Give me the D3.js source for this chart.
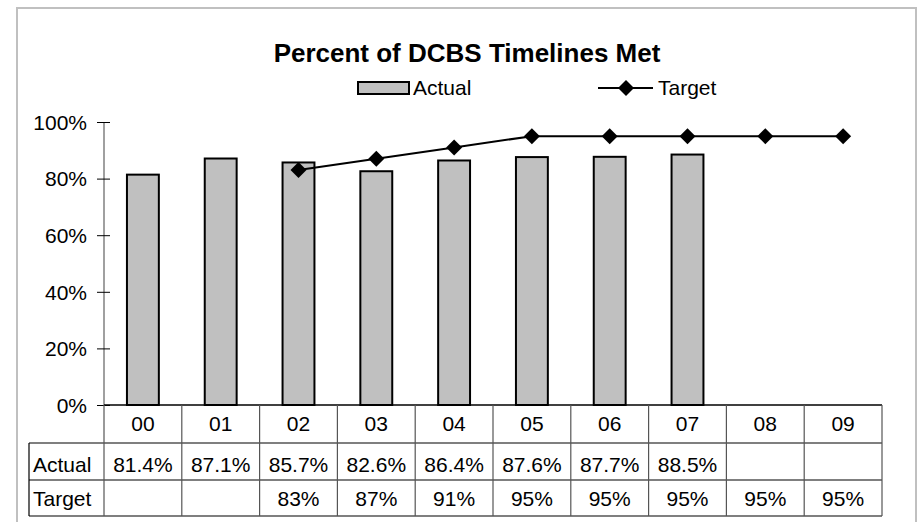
<!DOCTYPE html>
<html>
<head>
<meta charset="utf-8">
<script src="https://cdn.jsdelivr.net/npm/d3@7"></script>
<style>
  html, body { margin: 0; padding: 0; background: #fff; }
  svg { display: block; font-family: "Liberation Sans", Arial, sans-serif; }
</style>
</head>
<body>
<svg id="chart" width="920" height="522"></svg>
<script>
const categories = ["00", "01", "02", "03", "04", "05", "06", "07", "08", "09"];
const actual = [81.4, 87.1, 85.7, 82.6, 86.4, 87.6, 87.7, 88.5, null, null];
const target = [null, null, 83, 87, 91, 95, 95, 95, 95, 95];
const actualLabels = ["81.4%", "87.1%", "85.7%", "82.6%", "86.4%", "87.6%", "87.7%", "88.5%", "", ""];
const targetLabels = ["", "", "83%", "87%", "91%", "95%", "95%", "95%", "95%", "95%"];
const yTicks = [0, 20, 40, 60, 80, 100];
const seriesNames = ["Actual", "Target"];
const title = "Percent of DCBS Timelines Met";

(function () {
const svg = d3.select("#chart");
const FS = 21;

// outer frame
svg.append("rect").attr("x", 17).attr("y", 8).attr("width", 899).attr("height", 530)
  .attr("fill", "#fff").attr("stroke", "#c0c0c0").attr("stroke-width", 2);

const pLeft = 104, pRight = 882, pTop = 122, pBottom = 405;
const x = d3.scaleBand().domain(categories).range([pLeft, pRight]).paddingInner(0).paddingOuter(0);
const y = d3.scaleLinear().domain([0, 100]).range([pBottom, pTop]);

// title
svg.append("text").attr("x", 467).attr("y", 62).attr("text-anchor", "middle")
  .attr("font-size", 26).attr("font-weight", "bold").attr("fill", "#000").text(title);

// legend
const lg = svg.append("g");
lg.append("rect").attr("x", 358).attr("y", 82).attr("width", 51).attr("height", 12)
  .attr("fill", "#c0c0c0").attr("stroke", "#000").attr("stroke-width", 2);
lg.append("text").attr("x", 413).attr("y", 95).attr("font-size", FS).text(seriesNames[0]);
lg.append("line").attr("x1", 598).attr("x2", 653).attr("y1", 88).attr("y2", 88)
  .attr("stroke", "#000").attr("stroke-width", 2);
lg.append("path").attr("d", d3.symbol().type(d3.symbolSquare).size(128)())
  .attr("transform", "translate(626,88) rotate(45)").attr("fill", "#000");
lg.append("text").attr("x", 658).attr("y", 95).attr("font-size", FS).text(seriesNames[1]);

// y axis
const yAxis = d3.axisLeft(y).tickValues(yTicks).tickFormat(d => d + "%").tickSize(7).tickPadding(10);
const ya = svg.append("g").attr("transform", `translate(${pLeft},0)`).call(yAxis);
ya.select(".domain").attr("stroke", "#808080").attr("stroke-width", 1.5).attr("d", `M0,${pTop}V${pBottom}`);
ya.selectAll(".tick line").attr("stroke", "#000").attr("x1", 6).attr("x2", -7);
ya.selectAll(".tick text").attr("font-size", FS).attr("fill", "#000")
  .attr("font-family", "Liberation Sans, Arial, sans-serif").attr("x", -17).attr("dy", "0.35em");

// bars
const bw = x.bandwidth() * 0.41;
svg.append("g").selectAll("rect").data(categories.map((c, i) => ({c, v: actual[i]})).filter(d => d.v != null))
  .join("rect")
  .attr("x", d => x(d.c) + x.bandwidth() / 2 - bw / 2)
  .attr("y", d => y(d.v))
  .attr("width", bw)
  .attr("height", d => y(0) - y(d.v))
  .attr("fill", "#c0c0c0").attr("stroke", "#000").attr("stroke-width", 2);

// target line
const tData = categories.map((c, i) => ({c, v: target[i]})).filter(d => d.v != null);
const line = d3.line().x(d => x(d.c) + x.bandwidth() / 2).y(d => y(d.v));
svg.append("path").datum(tData).attr("d", line).attr("fill", "none")
  .attr("stroke", "#000").attr("stroke-width", 2);
svg.append("g").selectAll("path").data(tData).join("path")
  .attr("d", d3.symbol().type(d3.symbolSquare).size(128)())
  .attr("transform", d => `translate(${x(d.c) + x.bandwidth() / 2},${y(d.v)}) rotate(45)`)
  .attr("fill", "#000");

// data table
const tbl = svg.append("g");
const labelLeft = 29;
tbl.append("line").attr("x1", pLeft).attr("x2", pRight).attr("y1", pBottom).attr("y2", pBottom)
  .attr("stroke", "#000").attr("stroke-width", 1.5);
[443, 480, 516].forEach(yy => tbl.append("line").attr("x1", labelLeft).attr("x2", pRight)
  .attr("y1", yy).attr("y2", yy).attr("stroke", "#000").attr("stroke-width", 1.2));
tbl.append("line").attr("x1", labelLeft).attr("x2", labelLeft).attr("y1", 443).attr("y2", 516)
  .attr("stroke", "#000").attr("stroke-width", 1.2);
const bounds = categories.map(c => x(c)).concat([pRight]);
bounds.forEach(bx => tbl.append("line").attr("x1", bx).attr("x2", bx).attr("y1", pBottom).attr("y2", 516)
  .attr("stroke", "#555").attr("stroke-width", 1.2));
tbl.selectAll("text.h").data(categories).join("text").attr("class", "h")
  .attr("x", d => x(d) + x.bandwidth() / 2).attr("y", 431).attr("text-anchor", "middle")
  .attr("font-size", FS).text(d => d);
tbl.append("text").attr("x", 33).attr("y", 472).attr("font-size", FS).text(seriesNames[0]);
tbl.append("text").attr("x", 33).attr("y", 506).attr("font-size", FS).text(seriesNames[1]);
tbl.selectAll("text.a").data(categories).join("text").attr("class", "a")
  .attr("x", d => x(d) + x.bandwidth() / 2).attr("y", 472).attr("text-anchor", "middle")
  .attr("font-size", FS).text((d, i) => actualLabels[i]);
tbl.selectAll("text.t").data(categories).join("text").attr("class", "t")
  .attr("x", d => x(d) + x.bandwidth() / 2).attr("y", 506).attr("text-anchor", "middle")
  .attr("font-size", FS).text((d, i) => targetLabels[i]);
})();
</script>
</body>
</html>
